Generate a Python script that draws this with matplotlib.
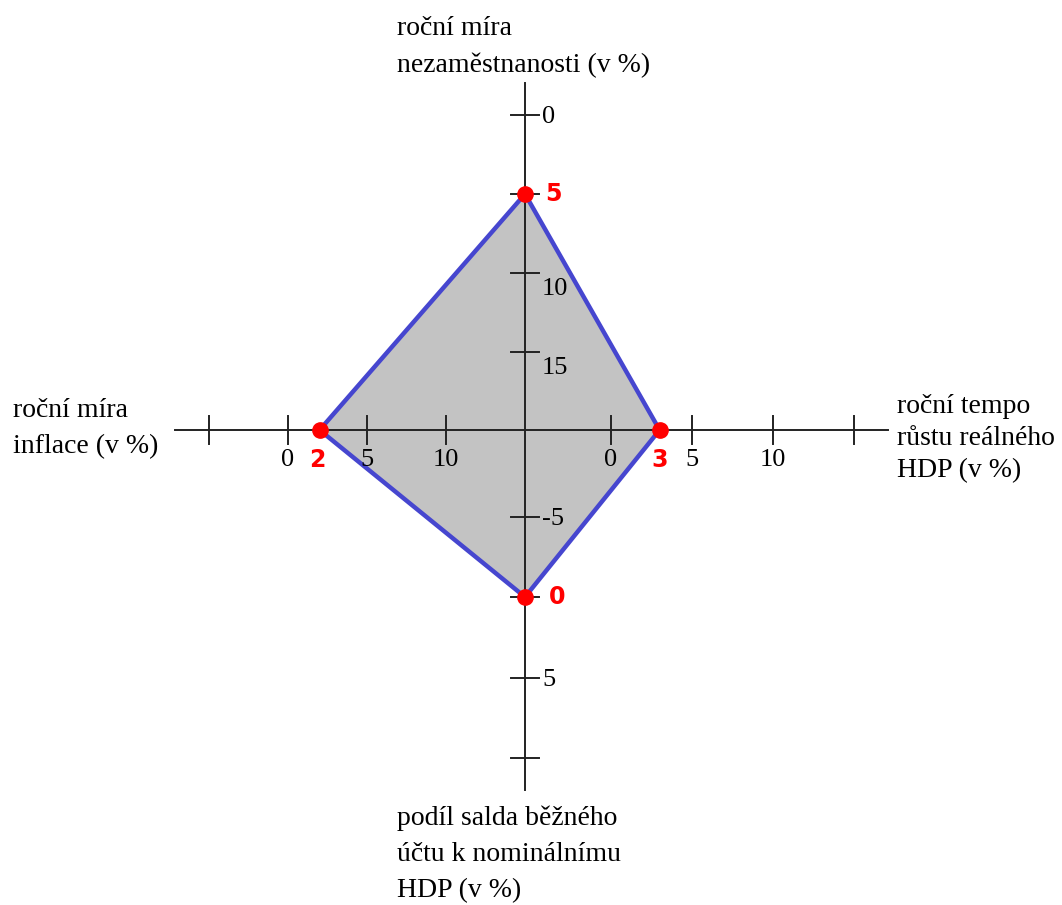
import matplotlib.pyplot as plt
from matplotlib.patches import Polygon

# values shown in the chart (percent)
indicators = ["unemployment", "gdp", "current_account", "inflation"]
values = [5, 3, 0, 2]
value_labels = ["5", "3", "0", "2"]

axis_titles = [
    ["roční míra", "nezaměstnanosti (v %)"],
    ["roční tempo", "růstu reálného", "HDP (v %)"],
    ["podíl salda běžného", "účtu k nominálnímu", "HDP (v %)"],
    ["roční míra", "inflace (v %)"],
]

# tick values per axis, and which of them carry a number
ticks_up = [0, 5, 10, 15]
labels_up = ["0", "", "10", "15"]
ticks_right = [0, 5, 10, 15]
labels_right = ["0", "5", "10", ""]
ticks_down = [-5, 0, 5, 10]
labels_down = ["-5", "", "5", ""]
ticks_left = [-5, 0, 5, 10]
labels_left = ["", "0", "5", "10"]

# each arm: direction (pixel space, y down), distance of value 0, px per unit, arm length
cx, cy = 525, 430
arms = {
    "unemployment": dict(d=(0, -1), d0=315, k=-15.8, length=347),
    "gdp": dict(d=(1, 0), d0=86, k=16.2, length=363),
    "current_account": dict(d=(0, 1), d0=167, k=16.1, length=360),
    "inflation": dict(d=(-1, 0), d0=237, k=-15.8, length=350),
}


def pos(name, v):
    a = arms[name]
    dist = a["d0"] + a["k"] * v
    return cx + a["d"][0] * dist, cy + a["d"][1] * dist


fig = plt.figure(figsize=(10.62, 9.05), dpi=100)
ax = fig.add_axes([0, 0, 1, 1])
ax.set_xlim(0, 1062)
ax.set_ylim(905, 0)
ax.axis("off")

# grey quadrangle
pts = [pos(n, v) for n, v in zip(indicators, values)]
ax.add_patch(Polygon(pts, closed=True, facecolor="#c3c3c3", edgecolor="#4646cf",
                     linewidth=3.2, zorder=1, joinstyle="round"))

# axes cross
lw = 1.4
for n in indicators:
    a = arms[n]
    ax.plot([cx, cx + a["d"][0] * a["length"]], [cy, cy + a["d"][1] * a["length"]],
            color="#222222", lw=lw, zorder=2)

serif = "Liberation Serif"
tick_fs = 19
half = 14

for t, lab in zip(ticks_up, labels_up):
    x, y = pos("unemployment", t)
    ax.plot([x - half, x + half], [y, y], color="#222222", lw=lw, zorder=2)
    if lab:
        dy = 16 if t >= 10 else 2
        ax.text(x + 17, y + dy, lab, family=serif, fontsize=tick_fs, ha="left", va="center")

for t, lab in zip(ticks_down, labels_down):
    x, y = pos("current_account", t)
    ax.plot([x - half, x + half], [y, y], color="#222222", lw=lw, zorder=2)
    if lab:
        ax.text(x + 17, y + 2, lab, family=serif, fontsize=tick_fs, ha="left", va="center")

for t, lab in zip(ticks_right, labels_right):
    x, y = pos("gdp", t)
    ax.plot([x, x], [y - half, y + half], color="#222222", lw=lw, zorder=2)
    if lab:
        ax.text(x, y + 30, lab, family=serif, fontsize=tick_fs, ha="center", va="center")

for t, lab in zip(ticks_left, labels_left):
    x, y = pos("inflation", t)
    ax.plot([x, x], [y - half, y + half], color="#222222", lw=lw, zorder=2)
    if lab:
        ax.text(x, y + 30, lab, family=serif, fontsize=tick_fs, ha="center", va="center")

# red points with value labels
offsets = {"unemployment": (20, 0, "left"), "gdp": (0, 30, "center"),
           "current_account": (24, 0, "left"), "inflation": (-2, 30, "center")}
for n, v, lab in zip(indicators, values, value_labels):
    x, y = pos(n, v)
    ax.plot(x, y, "o", color="#ff0000", markersize=11, zorder=4)
    ox, oy, ha = offsets[n]
    ax.text(x + ox, y + oy, lab, color="#ff0000", fontsize=17, fontweight="bold",
            family="DejaVu Sans", ha=ha, va="center", zorder=4)

# axis titles, one line at a time: (left x, first baseline, line step)
title_fs = 20
title_places = [(397, 35, 37), (897, 413, 32), (397, 825, 36), (13, 417, 36)]
for lines, (tx, ty, step) in zip(axis_titles, title_places):
    for i, line in enumerate(lines):
        ax.text(tx, ty + i * step, line, family=serif, fontsize=title_fs,
                ha="left", va="baseline")

fig.savefig("out.png", dpi=100)
